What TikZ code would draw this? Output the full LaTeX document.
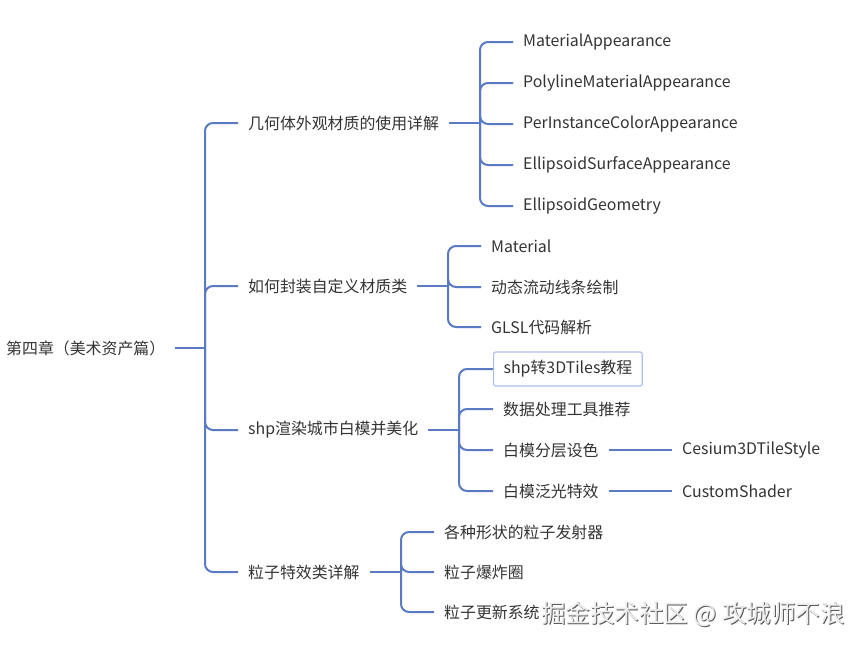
\documentclass[tikz,border=0pt]{standalone}
\usepackage{fontspec}
\setmainfont{Noto Sans CJK SC}
\usepackage{tikz}
\usetikzlibrary{positioning}
\definecolor{linkblue}{HTML}{5A7AC4}
\definecolor{txtgray}{HTML}{333333}
\definecolor{boxblue}{HTML}{A9BFEA}

\begin{document}
\begin{tikzpicture}[x=1pt,y=-1pt,
  topic/.style={anchor=west,inner xsep=10pt,inner ysep=2pt,text=txtgray,font=\fontsize{15.9}{18}\selectfont},
  link/.style={draw=linkblue,line width=2pt,rounded corners=8pt}]
\useasboundingbox (0,0) rectangle (867,648);
\node[topic] (ch4) at (-4,348) {第四章（美术资产篇）};
\node[topic] (geo) at (238,123) {几何体外观材质的使用详解};
\node[topic] (mat) at (238,286) {如何封装自定义材质类};
\node[topic] (shp) at (238,430) {shp渲染城市白模并美化};
\node[topic] (par) at (238,572) {粒子特效类详解};
\node[topic] (ma) at (513,42) {MaterialAppearance};
\node[topic] (pm) at (513,83) {PolylineMaterialAppearance};
\node[topic] (pi) at (513,124) {PerInstanceColorAppearance};
\node[topic] (es) at (513,165) {EllipsoidSurfaceAppearance};
\node[topic] (eg) at (513,206) {EllipsoidGeometry};
\node[topic] (m1) at (481,246) {Material};
\node[topic] (m2) at (481,287) {动态流动线条绘制};
\node[topic] (m3) at (481,327) {GLSL代码解析};
\node[topic,draw=boxblue,line width=1.2pt,rounded corners=2pt,minimum height=34pt] (s1) at (493,369) {shp转3DTiles教程};
\node[topic] (s2) at (493,409) {数据处理工具推荐};
\node[topic] (s3) at (493,450) {白模分层设色};
\node[topic] (s4) at (493,491) {白模泛光特效};
\node[topic] (cs) at (672,450) {Cesium3DTileStyle};
\node[topic] (sh) at (672,491) {CustomShader};
\node[topic] (p1) at (434,532) {各种形状的粒子发射器};
\node[topic] (p2) at (434,572) {粒子爆炸圈};
\node[topic] (p3) at (434,612) {粒子更新系统};
\coordinate (t0) at (205,348);
\coordinate (tg) at (480,123);
\coordinate (tm) at (448,286);
\coordinate (ts) at (459,430);
\coordinate (tp) at (401,572);
\foreach \n in {geo,mat,shp,par} \draw[link] (\n.west) -| (t0);
\foreach \n in {ma,pm,pi,es,eg} \draw[link] (\n.west) -| (tg);
\foreach \n in {m1,m2,m3} \draw[link] (\n.west) -| (tm);
\foreach \n in {s1,s2,s3,s4} \draw[link] (\n.west) -| (ts);
\foreach \n in {p1,p2,p3} \draw[link] (\n.west) -| (tp);
\draw[link] (ch4.east) -- (t0);
\draw[link] (geo.east) -- (tg);
\draw[link] (mat.east) -- (tm);
\draw[link] (shp.east) -- (ts);
\draw[link] (par.east) -- (tp);
\draw[link] (s3.east) -- (cs.west);
\draw[link] (s4.east) -- (sh.west);
\node[text=black!65,font=\fontsize{24.5}{28}\selectfont] (markshade) at (694,615) {掘金技术社区 @ 攻城师不浪};
\node[text=white!93!black,font=\fontsize{24.5}{28}\selectfont] (mark) at (693,614) {掘金技术社区 @ 攻城师不浪};
\end{tikzpicture}
\end{document}
